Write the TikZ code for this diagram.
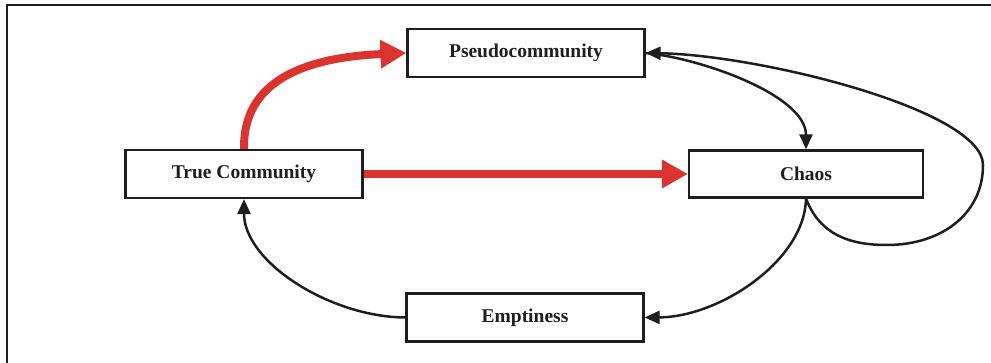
\documentclass[tikz,border=0pt]{standalone}
\usepackage{fontspec}
\setmainfont{Liberation Serif}
\usetikzlibrary{arrows.meta}
\definecolor{redarr}{RGB}{218,52,48}
\definecolor{inkc}{RGB}{30,30,30}
\tikzset{
  stagebox/.style={draw=inkc, line width=2.2pt, fill=white, minimum width=237pt, minimum height=48pt, inner sep=0pt,
     font=\fontsize{19.5}{22}\selectfont\bfseries, text=inkc},
  blackarr/.style={draw=inkc, line width=2.5pt, -{Triangle[length=15pt,width=13pt]}},
  redarrow/.style={draw=redarr, line width=8pt, -{Triangle[length=26pt,width=27pt]}},
}
\begin{document}
\begin{tikzpicture}[x=1pt,y=-1pt]
\useasboundingbox (0,0) rectangle (991,363);
\begin{scope}
\clip (0,0) rectangle (991,363);
\draw[inkc, line width=2.5pt] (7,5) rectangle (1010,400);
\end{scope}
\node[stagebox] (pseudo) at (526,53) {Pseudocommunity};
\node[stagebox] (true) at (244,174) {True Community};
\node[stagebox, minimum width=234pt, minimum height=47pt] (chaos) at (806,174) {Chaos};
\node[stagebox] (empty) at (525,317.5) {Emptiness};
% red transitions
\draw[redarrow] (true.north) .. controls (243,88) and (292,58) .. (pseudo.west);
\draw[redarrow] (true.east) -- (chaos.west);
% black cycle
\draw[blackarr] (pseudo.east) .. controls (700,58) and (806,95) .. (chaos.north);
\draw[blackarr] (chaos.south) .. controls (820,235) and (850,245) .. (887,245)
   .. controls (940,245) and (983,215) .. (983,165)
   .. controls (983,110) and (760,55) .. (pseudo.east);
\draw[blackarr] (chaos.south) .. controls (805,260) and (720,317) .. (empty.east);
\draw[blackarr] (empty.west) .. controls (330,317) and (244,262) .. (true.south);
\end{tikzpicture}
\end{document}
